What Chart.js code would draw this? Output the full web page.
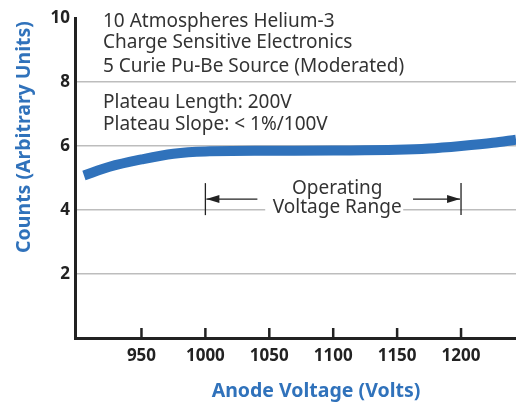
<!DOCTYPE html>
<html>
<head>
<meta charset="utf-8">
<script src="https://cdn.jsdelivr.net/npm/chart.js@4.4.0/dist/chart.umd.min.js"></script>
<style>
  html, body { margin: 0; padding: 0; background: #fff; }
  #wrap { width: 516px; height: 404px; }
</style>
</head>
<body>
<div id="wrap"><canvas id="plateauChart" width="516" height="404"></canvas></div>
<script>
// Plateau curve
const voltage = [905, 925, 950, 975, 1000, 1050, 1100, 1150, 1175, 1200, 1225, 1243];
const counts = [5.08, 5.35, 5.58, 5.76, 5.83, 5.85, 5.86, 5.88, 5.92, 6.0, 6.1, 6.2];
const xTicks = [950, 1000, 1050, 1100, 1150, 1200];
const yTicks = [2, 4, 6, 8, 10];
const notes = ['10 Atmospheres Helium-3', 'Charge Sensitive Electronics', '5 Curie Pu-Be Source (Moderated)'];
const plateauNotes = ['Plateau Length: 200V', 'Plateau Slope: < 1%/100V'];
const rangeStart = 1000;
const rangeEnd = 1200;

const blue = '#3072bb';
const textColor = '#333333';
const font = '"Noto Sans", sans-serif';

// text, range arrows, inner ticks and axis titles
const extras = {
  id: 'extras',
  afterDraw(chart) {
    const ctx = chart.ctx;
    const x = chart.scales.x, y = chart.scales.y;
    ctx.save();

    // tick marks pointing up into the plot
    ctx.strokeStyle = '#222';
    ctx.lineWidth = 2.5;
    xTicks.forEach(v => {
      const px = x.getPixelForValue(v);
      ctx.beginPath();
      ctx.moveTo(px, y.bottom);
      ctx.lineTo(px, y.bottom - 10);
      ctx.stroke();
    });

    // notes at top left
    ctx.fillStyle = textColor;
    ctx.font = '19px ' + font;
    ctx.textAlign = 'left';
    ctx.textBaseline = 'middle';
    const left = x.left + 28;
    [22, 43, 67].forEach((py, i) => ctx.fillText(notes[i], left, py));
    [103, 125].forEach((py, i) => ctx.fillText(plateauNotes[i], left, py));

    // operating range
    const x0 = x.getPixelForValue(rangeStart), x1 = x.getPixelForValue(rangeEnd);
    const ay = y.getPixelForValue(4.34);
    const midX = (x0 + x1) / 2;
    ctx.fillStyle = '#fff';
    ctx.fillRect(midX - 68, y.getPixelForValue(4) - 6, 138, 12);
    ctx.strokeStyle = '#222';
    ctx.lineWidth = 1.3;
    [x0, x1].forEach(px => {
      ctx.beginPath();
      ctx.moveTo(px, y.getPixelForValue(4.84));
      ctx.lineTo(px, y.getPixelForValue(3.84));
      ctx.stroke();
    });
    const arrow = (from, to) => {
      ctx.beginPath();
      ctx.moveTo(from, ay);
      ctx.lineTo(to, ay);
      ctx.stroke();
      const d = Math.sign(to - from);
      ctx.fillStyle = '#222';
      ctx.beginPath();
      ctx.moveTo(to, ay);
      ctx.lineTo(to - d * 13, ay - 4);
      ctx.lineTo(to - d * 13, ay + 4);
      ctx.closePath();
      ctx.fill();
    };
    arrow(x0 + 52, x0 + 1);
    arrow(x1 - 48, x1 - 1);
    ctx.fillStyle = textColor;
    ctx.font = '19px ' + font;
    ctx.textAlign = 'center';
    ctx.fillText('Operating', midX + 4, 189);
    ctx.fillText('Voltage Range', midX + 4, 208);

    // axis titles
    ctx.fillStyle = blue;
    ctx.font = 'bold 19.5px ' + font;
    ctx.fillText('Anode Voltage (Volts)', 316, 391);
    ctx.translate(24, 137);
    ctx.rotate(-Math.PI / 2);
    ctx.fillText('Counts (Arbitrary Units)', 0, 0);
    ctx.restore();
  }
};

new Chart(document.getElementById('plateauChart'), {
  type: 'line',
  data: {
    datasets: [{
      data: voltage.map((v, i) => ({ x: v, y: counts[i] })),
      borderColor: blue,
      borderWidth: 10,
      pointRadius: 0,
      cubicInterpolationMode: 'monotone',
      fill: false
    }]
  },
  options: {
    responsive: false,
    animation: false,
    layout: { padding: { top: 18, right: 0, left: 0, bottom: 0 } },
    plugins: { legend: { display: false }, tooltip: { enabled: false } },
    scales: {
      x: {
        type: 'linear',
        min: 898,
        max: 1243,
        afterBuildTicks: s => { s.ticks = xTicks.map(v => ({ value: v })); },
        afterFit: s => { s.height = 66; },
        grid: { display: false, drawTicks: false },
        border: { color: '#222', width: 3 },
        ticks: {
          padding: 8,
          color: '#222',
          font: { family: '"Noto Sans", sans-serif', size: 17, weight: 'bold' },
          maxRotation: 0,
          callback: v => String(v)
        }
      },
      y: {
        min: 0,
        max: 10,
        afterBuildTicks: s => { s.ticks = yTicks.map(v => ({ value: v })); },
        afterFit: s => { s.width = 75; },
        grid: {
          drawTicks: false,
          color: ctx => (ctx.tick && ctx.tick.value === 10 ? 'rgba(0,0,0,0)' : '#bdbdbd'),
          lineWidth: 1.5
        },
        border: { color: '#222', width: 3 },
        ticks: {
          padding: 5,
          color: '#222',
          font: { family: '"Noto Sans", sans-serif', size: 17, weight: 'bold' },
          callback: v => String(v)
        }
      }
    }
  },
  plugins: [extras]
});
</script>
</body>
</html>
